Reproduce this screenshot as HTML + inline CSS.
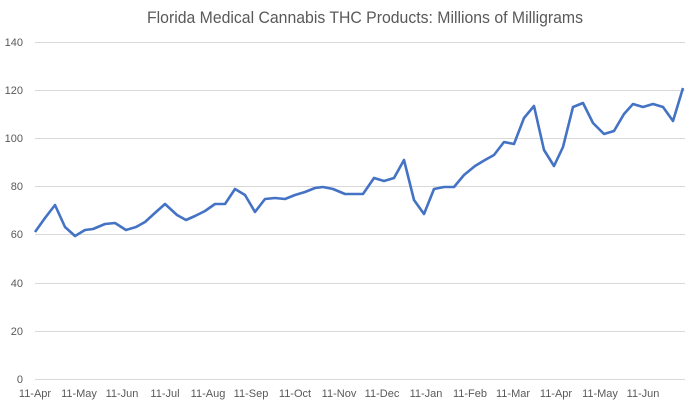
<!DOCTYPE html>
<html><head><style>
body{margin:0;background:#fff;}
svg{display:block;font-family:"Liberation Sans",sans-serif;}
</style></head><body>
<svg width="690" height="406" viewBox="0 0 690 406">
<rect width="690" height="406" fill="#fff"/>
<text x="365" y="23" text-anchor="middle" font-size="17" fill="#595959" textLength="436" lengthAdjust="spacingAndGlyphs">Florida Medical Cannabis THC Products: Millions of Milligrams</text>
<g stroke="#d9d9d9" stroke-width="1">
<line x1="35" x2="685" y1="42.5" y2="42.5"/>
<line x1="35" x2="685" y1="90.5" y2="90.5"/>
<line x1="35" x2="685" y1="138.5" y2="138.5"/>
<line x1="35" x2="685" y1="186.5" y2="186.5"/>
<line x1="35" x2="685" y1="234.5" y2="234.5"/>
<line x1="35" x2="685" y1="283.5" y2="283.5"/>
<line x1="35" x2="685" y1="331.5" y2="331.5"/>
<line x1="35" x2="685" y1="379.5" y2="379.5"/>
</g>
<g font-size="11" fill="#595959" text-anchor="end">
<text x="23" y="46">140</text><text x="23" y="94">120</text><text x="23" y="142">100</text>
<text x="23" y="190">80</text><text x="23" y="238">60</text><text x="23" y="287">40</text>
<text x="23" y="335">20</text><text x="23" y="383">0</text>
</g>
<g font-size="11" fill="#595959" text-anchor="middle">
<text x="35" y="397">11-Apr</text><text x="79" y="397">11-May</text><text x="122" y="397">11-Jun</text>
<text x="165" y="397">11-Jul</text><text x="208" y="397">11-Aug</text><text x="251" y="397">11-Sep</text>
<text x="295" y="397">11-Oct</text><text x="339" y="397">11-Nov</text><text x="382" y="397">11-Dec</text>
<text x="426" y="397">11-Jan</text><text x="470" y="397">11-Feb</text><text x="513" y="397">11-Mar</text>
<text x="556" y="397">11-Apr</text><text x="600" y="397">11-May</text><text x="643" y="397">11-Jun</text>
</g>
<polyline fill="none" stroke="#4472c4" stroke-width="2.6" stroke-linejoin="round" points="35,232 45,218 55,205 65,227 75,236 85,230 93,229 105,224 115,223 126,230 136,227 145,222 156,212 165,204 177,215 186,220 195,216 205,211 215,204 225,204 235,189 245,195 255,212 265,199 275,198 285,199 295,195 305,192 315,188 323,187 333,189 345,194 363,194 374,178 384,181 394,178 404,160 414,200 424,214 434,189 444,187 454,187 464,175 475,166 485,160 494,155 504,142 514,144 524,118 534,106 544,150 554,166 563,147 573,107 583,103 593,123 604,134 614,131 624,114 633,104 643,107 653,104 663,107 673,121 683,88"/>
</svg>
</body></html>
